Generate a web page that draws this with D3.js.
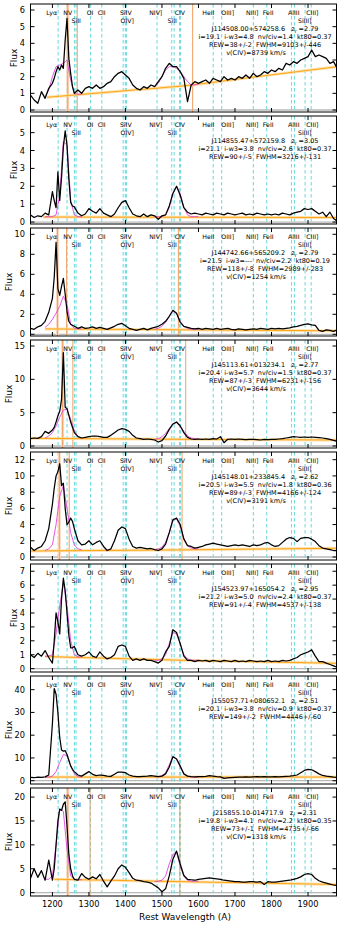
<!DOCTYPE html>
<html><head><meta charset="utf-8">
<script src="https://cdn.jsdelivr.net/npm/d3@7"></script>
<style>body{margin:0;background:#fff}svg{display:block}text{font-family:"DejaVu Sans",sans-serif;white-space:pre}</style>
</head><body><svg id="c" width="343" height="927"></svg>
<script>
// ---------- data ----------
const wl = [1140,1150,1160,1170,1180,1190,1200,
 1205,1210,1215,1220,1225,1230,1235,1240,1245,1250,1255,1260,
 1270,1280,1290,1300,1310,1320,1330,1340,1350,1360,1370,1380,1390,1400,
 1410,1420,1430,1440,1450,1460,1470,1480,1490,1500,1510,1520,1530,1540,1550,1560,1570,1580,1590,1600,
 1610,1620,1630,1640,1650,1660,1670,1680,1690,1700,1710,1720,1730,1740,1750,1760,1770,1780,1790,1800,
 1810,1820,1830,1840,1850,1860,1870,1880,1890,1900,1910,1920,1930,1940,1950,1960,1970,1980];

const flux1 = [0.9,0.6,0.4,1.1,0.7,1.3,1.6,
 1.9,2.3,2.6,2.4,2.7,2.5,4.2,5.5,3.1,2.2,1.4,1.0,
 1.2,1.0,1.3,1.4,1.3,1.5,1.3,1.4,1.6,1.7,2.0,2.2,2.3,2.1,
 1.9,1.5,1.3,1.2,1.4,1.3,1.5,1.4,1.7,2.0,2.5,2.8,2.6,2.6,2.3,1.9,0.5,1.5,1.7,1.6,
 1.7,1.8,1.6,1.9,1.8,1.7,2.0,1.8,1.9,1.8,2.0,1.9,2.1,1.9,2.2,2.0,2.1,2.3,2.2,2.4,
 2.3,2.5,2.4,2.8,2.7,2.9,2.8,3.0,3.1,3.2,3.6,3.2,3.3,3.2,3.1,2.8,2.9,2.5];
const flux2 = [0.4,0.25,0.35,0.3,0.5,0.4,1.7,
 1.2,0.8,2.8,1.2,2.5,4.2,5.1,4.3,2.4,1.1,0.9,0.85,
 0.5,0.35,0.45,0.75,0.6,0.5,0.75,0.5,0.4,0.3,0.45,0.8,1.1,1.2,
 0.8,0.45,0.35,0.3,0.45,0.3,0.4,0.35,0.15,0.35,0.4,0.9,1.6,2.0,1.5,0.8,0.55,0.45,0.5,0.45,
 0.4,0.5,0.45,0.4,0.5,0.45,0.4,0.5,0.45,0.4,0.45,0.5,0.4,0.45,0.4,0.5,0.45,0.4,0.45,0.4,
 0.45,0.4,0.5,0.45,0.4,0.5,0.55,0.6,0.75,0.7,0.75,0.6,0.45,0.55,0.3,0.55,0.2,0.05];
const flux3 = [0.6,0.5,0.75,0.9,1.3,2.2,3.6,
 5.7,9.2,4.6,3.9,4.8,5.6,4.0,2.3,1.3,1.0,0.9,0.8,
 0.6,0.75,0.6,0.65,0.75,0.6,0.7,0.6,0.5,0.65,0.8,1.0,1.1,0.85,
 0.6,0.5,0.4,0.5,0.6,0.45,0.6,0.7,0.8,1.0,1.3,1.8,2.4,2.1,1.2,0.8,0.7,0.6,0.55,0.6,
 0.5,0.6,0.55,0.5,0.6,0.5,0.55,0.6,0.5,0.45,0.55,0.5,0.45,0.5,0.55,0.5,0.6,0.55,0.5,0.6,
 0.55,0.6,0.55,0.6,0.65,0.75,0.8,0.9,1.0,1.05,0.95,0.9,0.4,0.3,0.45,0.4,0.3,0.45];
const flux4 = [1.1,1.2,1.15,1.4,2.2,1.9,2.4,
 2.8,3.6,4.5,5.2,7.0,14.0,5.8,5.6,4.6,3.6,2.8,2.0,
 1.4,1.2,1.3,1.4,1.5,1.5,1.4,1.3,1.3,1.6,2.0,2.4,2.6,2.5,
 2.2,1.6,1.2,1.1,1.0,1.05,1.0,0.9,0.6,0.8,1.5,2.5,3.3,3.6,3.0,2.0,1.3,1.05,1.0,1.05,
 1.0,1.05,1.0,1.1,1.05,1.4,0.5,1.0,1.05,1.0,1.05,1.0,0.95,1.0,1.0,0.95,0.9,1.0,0.95,1.0,
 1.0,1.05,1.1,1.2,1.3,1.4,1.35,1.3,1.35,1.3,1.35,1.3,1.25,1.2,1.1,1.0,0.85,0.7];
const flux5 = [1.2,0.8,1.1,1.3,2.0,3.5,6.5,
 8.5,10.0,10.5,11.5,8.8,9.1,6.0,4.0,4.3,4.8,4.4,3.5,
 2.0,1.5,1.6,2.0,1.5,1.8,2.0,1.3,0.8,1.0,2.0,3.3,3.7,3.5,
 2.2,1.3,1.1,1.2,1.1,1.0,1.05,0.9,0.8,1.0,1.6,3.0,4.6,4.8,4.0,2.2,1.4,1.3,1.1,1.2,
 1.3,1.5,1.6,1.7,1.6,1.5,1.4,1.3,1.4,1.5,1.4,1.5,1.4,1.3,1.5,1.4,1.5,1.7,1.8,1.5,
 1.3,1.4,1.8,2.2,2.4,2.3,1.9,2.3,2.4,2.4,2.2,1.9,1.4,1.1,1.0,0.9,0.8,0.8];
const flux6 = [1.0,0.8,1.1,0.9,1.3,0.8,0.4,
 2.0,4.0,3.4,2.5,5.0,6.5,5.6,4.0,2.4,1.5,1.5,1.6,
 1.0,0.9,1.0,1.2,0.9,0.8,1.2,0.9,0.7,0.8,1.0,1.6,1.7,1.6,
 0.9,0.6,0.7,0.6,0.7,0.6,0.6,0.5,0.4,0.6,1.2,1.6,2.8,2.6,1.8,0.9,0.6,0.6,0.5,0.6,
 0.55,0.6,0.5,0.6,0.55,0.5,0.6,0.55,0.5,0.6,0.5,0.55,0.5,0.6,0.55,0.5,0.55,0.5,0.6,0.5,
 0.55,0.5,0.6,0.55,0.6,0.7,0.8,1.0,1.1,1.2,1.35,0.9,0.5,0.5,0.4,0.3,0.2,0.1];
const flux7 = [1.5,1.3,1.6,1.5,1.7,2.5,25.0,
 40.5,38.0,30.0,19.0,13.5,13.0,13.2,11.5,9.0,6.5,5.0,4.0,
 2.5,2.0,3.0,4.0,2.8,2.2,2.5,2.3,2.0,1.9,2.8,3.8,3.8,3.5,
 2.5,2.0,1.8,1.8,1.9,2.0,2.2,2.0,1.8,2.0,3.0,6.0,10.5,9.5,6.5,3.0,2.0,1.8,1.7,1.8,
 1.8,1.9,2.2,2.0,1.8,1.7,1.0,1.2,1.4,1.5,1.6,1.6,1.7,1.6,1.7,1.8,1.7,1.8,1.7,1.7,
 1.8,1.7,1.8,1.9,2.0,2.2,2.5,3.5,4.5,5.0,4.8,4.0,3.0,2.3,2.0,1.8,1.6,1.5];
const flux8 = [3.0,5.0,3.2,4.6,2.6,6.8,2.6,
 5.0,10.0,15.0,17.5,17.2,18.5,19.0,14.0,8.0,5.0,3.5,2.8,
 2.6,4.0,3.2,2.8,3.3,2.9,3.8,2.4,1.2,2.4,3.5,5.0,5.8,5.3,
 4.2,3.0,2.6,2.5,2.3,2.2,2.0,1.5,1.0,0.2,0.8,3.5,7.0,8.7,6.0,3.6,2.8,2.7,2.6,2.8,
 2.9,3.0,3.1,3.0,2.9,2.8,2.6,2.5,2.4,2.3,2.3,2.2,2.2,2.3,2.3,2.2,2.3,1.7,2.3,2.2,
 2.2,2.3,2.4,2.5,2.6,2.8,3.0,3.3,3.8,4.0,3.8,3.0,2.5,2.2,2.0,1.8,1.6,1.5];

// continuum (power law) sampled at three wavelengths, drawn from contFrom
const contWl = [1140,1560,1980];
const cont1 = [0.68,1.45,2.6], cont2 = [0.28,0.27,0.25], cont3 = [0.55,0.45,0.35], cont4 = [1.15,1.0,0.9];
const cont5 = [0.74,0.88,1.08], cont6 = [0.9,0.6,0.38], cont7 = [1.6,1.6,1.6], cont8 = [2.9,2.3,1.7];
const contFrom = [1185,1175,1180,1140,1140,1180,1180,1205];

// emission-line fits
const fitNVwl = [1180,1190,1200,1210,1220,1230,1240,1250,1260,1270,1280];
const fitNV1 = [0.8,1.2,2.0,2.6,2.7,2.8,3.0,1.8,1.0,0.95,0.95];
const fitNV2 = [0.3,0.3,0.3,0.4,1.5,4.5,4.3,1.2,0.4,0.3,0.3];
const fitNV3 = [0.7,1.0,1.5,2.1,2.8,3.8,3.0,1.0,0.6,0.55,0.55];
const fitNV4 = [1.2,1.5,2.0,3.0,4.3,5.4,5.5,4.0,2.3,1.4,1.2];
const fitNV5 = [0.8,1.0,1.5,4.0,7.5,8.8,6.0,3.0,1.5,1.0,0.9];
const fitNV6 = [0.9,0.9,1.0,2.5,4.5,6.2,4.5,2.0,1.0,0.85,0.85];
const fitNV7 = [1.6,1.6,2.0,4.0,8.0,11.5,11.0,6.5,3.0,1.8,1.6];
const fitNV8 = [2.8,2.8,3.5,10.0,17.5,17.0,9.0,3.5,2.8,2.7,2.7];
const fitCIVwl = [1480,1490,1500,1510,1520,1530,1540,1550,1560,1570,1580,1590,1600];
const fitCIV1 = [1.4,1.6,2.0,2.4,2.6,2.6,2.5,2.3,2.0,1.7,1.5,1.5,1.55];
const fitCIV2 = [0.3,0.3,0.3,0.4,0.8,1.6,2.0,1.6,0.8,0.4,0.3,0.3,0.3];
const fitCIV3 = [0.5,0.6,0.8,1.2,1.8,2.3,2.1,1.3,0.8,0.6,0.5,0.5,0.5];
const fitCIV4 = [1.0,1.1,1.4,1.9,2.6,3.3,3.5,3.0,2.2,1.5,1.2,1.1,1.05];
const fitCIV5 = [0.9,1.0,1.2,1.8,3.0,4.5,4.7,3.8,2.3,1.4,1.1,1.0,1.0];
const fitCIV6 = [0.6,0.6,0.7,1.0,1.8,2.6,2.5,1.8,1.0,0.7,0.6,0.6,0.6];
const fitCIV7 = [1.7,1.8,2.2,3.5,7.0,10.8,9.5,6.0,3.0,2.0,1.7,1.6,1.6];
const fitCIV8 = [2.3,2.4,2.6,3.5,6.0,8.0,8.6,5.5,3.5,2.6,2.4,2.4,2.4];

// orange markers
const orange1 = [1242,1268,1584], orange2 = [], orange3 = [1214,1239,1545], orange4 = [1228,1256,1565];
const orange5 = [1219,1246,1555], orange6 = [], orange7 = [], orange8 = [1242,1303,1549];

// axes
const yLo = [-0.12,-0.11,-0.17,-0.3,-0.37,-0.24,-1.45,-0.7];
const yHi = [6.36,5.93,10.63,15.9,12.95,7.52,46.0,21.9];
const yT1 = [0,1,2,3,4,5,6], yT2 = [0,1,2,3,4,5], yT3 = [0,2,4,6,8,10], yT4 = [0,5,10,15];
const yT5 = [0,2,4,6,8,10,12], yT6 = [0,1,2,3,4,5,6,7], yT7 = [0,10,20,30,40], yT8 = [0,5,10,15,20];
const xTicks = [1200,1300,1400,1500,1600,1700,1800,1900];

// line list
const lineWl = [1215.67,1240.1,1260.4,1264.7,1304.4,1335.3,1393.8,1399.8,1402.8,1486.5,1526.7,1533.4,1548.2,1550.8,1640.4,1663.5,1750.3,1786.8,1854.7,1862.8,1892.0,1908.7];
const labelText = ["Lyα","NV","SiII","OI","CII","SiIV","OIV]","NIV]","SiII","CIV","HeII","OIII]","NIII]","FeII","AlIII","SiIII]","CIII]"];
const labelWl = [1198,1242,1265,1303,1335,1401,1405,1483,1528,1549,1627,1680,1747,1791,1861,1891,1912];
const labelRow = [0,0,1,0,0,0,1,0,1,0,0,0,0,0,0,1,0];

// annotations
const names = ["J114508.00+574258.6","J114855.47+572159.8","J144742.66+565209.2","J145113.61+013234.1","J145148.01+233845.4","J154523.97+165054.2","J155057.71+080652.1","J215855.10-014717.9"];
const zr = ["2.79","3.05","2.79","2.77","2.62","2.95","2.51","2.31"];
const info2 = ["i=19.1  i-w3=4.8  nv/civ=1.4  kt80=0.37","i=21.1  i-w3=3.8  nv/civ=2.6  kt80=0.37","i=21.5  i-w3=---  nv/civ=2.2  kt80=0.19","i=20.4  i-w3=5.7  nv/civ=1.5  kt80=0.37","i=20.5  i-w3=5.5  nv/civ=1.8  kt80=0.36","i=21.2  i-w3=5.0  nv/civ=2.4  kt80=0.37","i=20.1  i-w3=3.8  nv/civ=0.9  kt80=0.37","i=19.8  i-w3=4.1  nv/civ=2.2  kt80=0.35"];
const info3 = ["REW=38+/-2  FWHM=9103+/-446","REW=90+/-5  FWHM=3216+/-131","REW=118+/-8  FWHM=2989+/-283","REW=87+/-3  FWHM=6231+/-156","REW=89+/-3  FWHM=4166+/-124","REW=91+/-4  FWHM=4537+/-138","REW=149+/-2  FWHM=4446+/-60","REW=73+/-1  FWHM=4735+/-66"];
const info4 = ["v(CIV)=8739 km/s","","v(CIV)=1254 km/s","v(CIV)=3644 km/s","v(CIV)=3191 km/s","","","v(CIV)=1318 km/s"];

// ---------- build ----------
const fluxes = [flux1,flux2,flux3,flux4,flux5,flux6,flux7,flux8];
const conts = [cont1,cont2,cont3,cont4,cont5,cont6,cont7,cont8];
const fitsNV = [fitNV1,fitNV2,fitNV3,fitNV4,fitNV5,fitNV6,fitNV7,fitNV8];
const fitsCIV = [fitCIV1,fitCIV2,fitCIV3,fitCIV4,fitCIV5,fitCIV6,fitCIV7,fitCIV8];
const oranges = [orange1,orange2,orange3,orange4,orange5,orange6,orange7,orange8];
const yTicks = [yT1,yT2,yT3,yT4,yT5,yT6,yT7,yT8];

const svg = d3.select("#c");
const L = 30.5, R = 336.5, TOP0 = 4, PH = 108, STEP = 112;
const x = d3.scaleLinear().domain([1140,1978]).range([L,R]);
const SF = 6.5, LF = 6.2;

for (let p = 0; p < 8; p++) {
  const top = TOP0 + p*STEP, bot = top + PH;
  const y = d3.scaleLinear().domain([yLo[p], yHi[p]]).range([bot, top]);
  const g = svg.append("g");
  const cid = "clip" + p;
  g.append("clipPath").attr("id", cid).append("rect").attr("x", L).attr("y", top).attr("width", R-L).attr("height", PH);
  const pg = g.append("g").attr("clip-path", `url(#${cid})`);

  // zero line
  pg.append("line").attr("x1", L).attr("x2", R).attr("y1", y(0)).attr("y2", y(0))
    .attr("stroke", "#b8b8b8").attr("stroke-width", 1.3);
  // cyan line markers
  pg.selectAll(".cy").data(lineWl).join("line")
    .attr("x1", d=>x(d)).attr("x2", d=>x(d)).attr("y1", top).attr("y2", bot)
    .attr("stroke", "#74dcdc").attr("stroke-width", 1.1).attr("stroke-dasharray", "3.5,2.5");
  // orange markers
  oranges[p].forEach((w,i) => {
    if (i === 0) pg.append("line").attr("x1", x(w)).attr("x2", x(w)).attr("y1", top).attr("y2", bot)
      .attr("stroke", "#fbd9c0").attr("stroke-width", 3);
    pg.append("line").attr("x1", x(w)).attr("x2", x(w)).attr("y1", top).attr("y2", bot)
      .attr("stroke", "#f0a060").attr("stroke-width", 1);
  });
  // continuum
  const cfun = d3.scaleLinear().domain(contWl).range(conts[p]);
  const cpts = [contFrom[p], 1300, 1420, 1560, 1700, 1840, 1980].filter(w => w >= contFrom[p]);
  const cline = d3.line().x(d=>x(d)).y(d=>y(cfun(d))).curve(d3.curveMonotoneX);
  pg.append("path").attr("d", cline(cpts)).attr("fill","none").attr("stroke","#ffd58f").attr("stroke-width",3).attr("opacity",0.7);
  pg.append("path").attr("d", cline(cpts)).attr("fill","none").attr("stroke","#ffa514").attr("stroke-width",1);
  // fits
  const fl = d3.line().x(d=>x(d[0])).y(d=>y(d[1]));
  pg.append("path").attr("d", fl(fitNVwl.map((w,i)=>[w, fitsNV[p][i]]))).attr("fill","none").attr("stroke","#e046e0").attr("stroke-width",0.9);
  pg.append("path").attr("d", fl(fitCIVwl.map((w,i)=>[w, fitsCIV[p][i]]))).attr("fill","none").attr("stroke","#e046e0").attr("stroke-width",0.9);
  // spectrum
  pg.append("path").attr("d", fl(wl.map((w,i)=>[w, fluxes[p][i]]))).attr("fill","none")
    .attr("stroke","#000").attr("stroke-width",1.25).attr("stroke-linejoin","round");

  // frame
  g.append("rect").attr("x", L).attr("y", top).attr("width", R-L).attr("height", PH)
    .attr("fill","none").attr("stroke","#000").attr("stroke-width",1);
  // x ticks (inward, bottom & top)
  xTicks.forEach(t => {
    g.append("line").attr("x1", x(t)).attr("x2", x(t)).attr("y1", bot).attr("y2", bot-4).attr("stroke","#000");
    g.append("line").attr("x1", x(t)).attr("x2", x(t)).attr("y1", top).attr("y2", top+4).attr("stroke","#000");
  });
  // y ticks
  yTicks[p].forEach(t => {
    g.append("line").attr("x1", L).attr("x2", L+4).attr("y1", y(t)).attr("y2", y(t)).attr("stroke","#000");
    g.append("line").attr("x1", R).attr("x2", R-4).attr("y1", y(t)).attr("y2", y(t)).attr("stroke","#000");
    g.append("text").attr("x", 25).attr("y", y(t)+3).attr("text-anchor","end").attr("font-size",8.2).text(t);
  });
  const maxLen = d3.max(yTicks[p], t => String(t).length);
  const fx = maxLen > 1 ? 12 : 17.3;
  g.append("text").attr("transform", `translate(${fx},${(top+bot)/2}) rotate(-90)`)
    .attr("text-anchor","middle").attr("font-size",9).text("Flux");

  // line labels
  labelText.forEach((s,i) => {
    g.append("text").attr("x", x(labelWl[i])).attr("y", top + (labelRow[i] ? 18.6 : 11))
      .attr("text-anchor","middle").attr("font-size",LF).text(s);
  });
  // info
  const cx = 265;
  const t1 = g.append("text").attr("x", cx).attr("y", top+27).attr("text-anchor","middle").attr("font-size",SF);
  t1.append("tspan").text(names[p] + "   z");
  t1.append("tspan").attr("font-size",4.5).attr("dy",1.5).text("r");
  t1.append("tspan").attr("dy",-1.5).text(" =" + zr[p]);
  g.append("text").attr("x", cx).attr("y", top+35).attr("text-anchor","middle").attr("font-size",SF).text(info2[p]);
  g.append("text").attr("x", cx).attr("y", top+43).attr("text-anchor","middle").attr("font-size",SF).text(info3[p]);
  if (info4[p]) g.append("text").attr("x", 256).attr("y", top+51).attr("text-anchor","middle").attr("font-size",SF).text(info4[p]);

  if (p === 7) {
    xTicks.forEach(t => g.append("text").attr("x", x(t)).attr("y", bot+11).attr("text-anchor","middle").attr("font-size",8.2).text(t));
    g.append("text").attr("x", 185).attr("y", bot+24).attr("text-anchor","middle").attr("font-size",9).text("Rest Wavelength (A)");
  }
}
</script></body></html>
